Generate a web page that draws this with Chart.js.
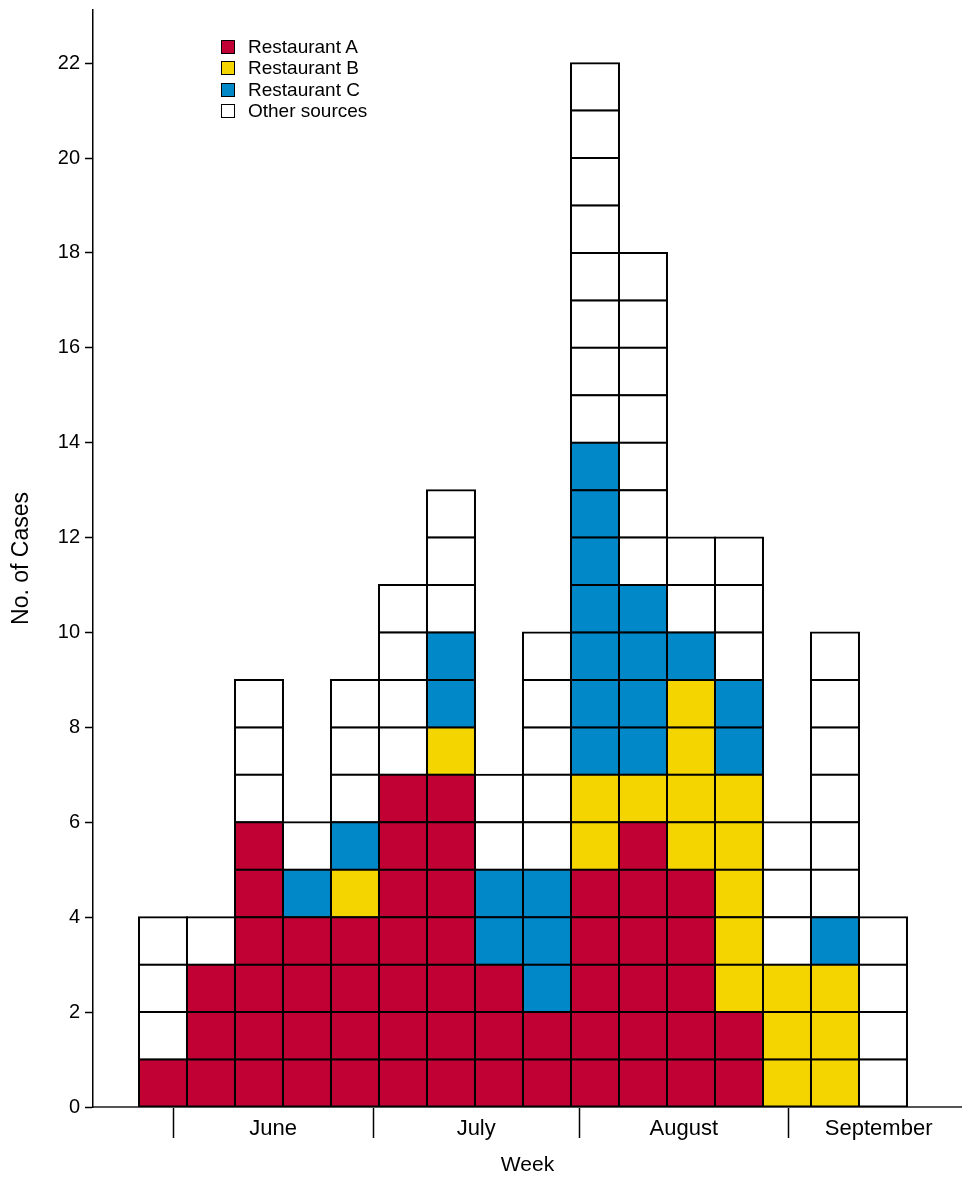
<!DOCTYPE html>
<html>
<head>
<meta charset="utf-8">
<title>Cases by week and source</title>
<script src="https://cdn.jsdelivr.net/npm/chart.js@4.4.0/dist/chart.umd.min.js"></script>
<style>
    body { margin: 0; background: #fff; }
    #wrap { position: relative; width: 962px; height: 1178px; }
    #legend { position: absolute; left: 221px; top: 36px; font-family: 'Liberation Sans', Arial, sans-serif; font-size: 19px; color: #000; }
    #legend .row { height: 21.5px; display: flex; align-items: center; }
    #legend .box { width: 14px; height: 14px; border: 1.5px solid #000; box-sizing: border-box; margin-right: 13px; }
</style>
</head>
<body>
<div id="wrap">
    <canvas id="chart-cases"></canvas>
    <div id="legend"></div>
</div>
<script>
// week index of each bar
const weeks = [1, 2, 3, 4, 5, 6, 7, 8, 9, 10, 11, 12, 13, 14, 15, 16];

// cases per week, by source
const restaurantA  = [1, 3, 6, 4, 4, 7, 7, 3, 2, 5, 6, 5, 2, 0, 0, 0];
const restaurantB  = [0, 0, 0, 0, 1, 0, 1, 0, 0, 2, 1, 4, 5, 3, 3, 0];
const restaurantC  = [0, 0, 0, 1, 1, 0, 2, 2, 3, 7, 4, 1, 2, 0, 1, 0];
const otherSources = [3, 1, 3, 1, 3, 4, 3, 2, 5, 8, 7, 2, 3, 3, 6, 4];

const seriesNames  = ['Restaurant A', 'Restaurant B', 'Restaurant C', 'Other sources'];
const seriesColors = ['#C10034', '#F4D500', '#0088C8', '#FFFFFF'];

// month labels on the week axis, and the week position where each month begins
const monthNames  = ['June', 'July', 'August', 'September'];
const monthStarts = [1.21, 5.38, 9.67, 14.03, 17.79];

const yTicks = [0, 2, 4, 6, 8, 10, 12, 14, 16, 18, 20, 22];

Chart.defaults.font.family = "'Liberation Sans', Arial, sans-serif";
Chart.defaults.color = '#000';

// every case is its own box, so each series is split in one-case layers
function unitDatasets(counts, name, color) {
    const sets = [];
    const top = Math.max(...counts);
    for (let k = 1; k <= top; k++) {
        const data = [];
        weeks.forEach(function (w, i) {
            if (counts[i] >= k) data.push({x: w, y: 1});
        });
        sets.push({
            label: name,
            data: data,
            backgroundColor: color,
            borderColor: '#000',
            borderWidth: 2,
            borderSkipped: false,
            inflateAmount: 1,
            barPercentage: 1,
            categoryPercentage: 1
        });
    }
    return sets;
}

const allSeries = [restaurantA, restaurantB, restaurantC, otherSources];
let datasets = [];
allSeries.forEach(function (counts, s) {
    datasets = datasets.concat(unitDatasets(counts, seriesNames[s], seriesColors[s]));
});

// month ticks: a divider mark at each month start, a label in the middle
const monthTicks = [];
monthNames.forEach(function (name, i) {
    monthTicks.push({value: monthStarts[i], label: '', divider: true});
    monthTicks.push({value: (monthStarts[i] + monthStarts[i + 1]) / 2, label: name, divider: false});
});

const ctx = document.getElementById('chart-cases');

new Chart(ctx, {
    type: 'bar',
    data: {datasets: datasets},
    options: {
        responsive: true,
        maintainAspectRatio: false,
        animation: false,
        layout: {padding: {top: 10, left: 0, right: 0, bottom: 0}},
        plugins: {
            legend: {display: false},
            tooltip: {enabled: false}
        },
        scales: {
            x: {
                type: 'linear',
                stacked: true,
                offset: false,
                min: -0.458,
                max: 17.646,
                afterBuildTicks: function (axis) {
                    axis.ticks = monthTicks.map(function (t) { return {value: t.value, label: t.label, divider: t.divider}; });
                },
                afterFit: function (s) {
                    s.height = 71;
                    s.paddingLeft = 0;
                    s.paddingRight = 0;
                },
                ticks: {
                    autoSkip: false,
                    maxRotation: 0,
                    padding: -22,
                    font: {size: 22},
                    callback: function (v, i) { return monthTicks[i].label; }
                },
                grid: {
                    offset: false,
                    drawOnChartArea: false,
                    tickLength: 31,
                    tickWidth: 1.5,
                    tickColor: function (c) { return c.tick && c.tick.divider ? '#000' : 'rgba(0,0,0,0)'; }
                },
                border: {color: '#555', width: 2},
                title: {display: true, text: 'Week', font: {size: 21}, padding: {top: 0, bottom: 0}}
            },
            y: {
                stacked: true,
                min: 0,
                max: 23.12,
                afterBuildTicks: function (axis) {
                    axis.ticks = yTicks.map(function (v) { return {value: v}; });
                },
                afterFit: function (s) {
                    s.width = 93;
                    s.paddingTop = 0;
                    s.paddingBottom = 0;
                },
                ticks: {padding: 5, font: {size: 20}},
                grid: {drawOnChartArea: false, tickLength: 8, tickWidth: 1.5, tickColor: '#000'},
                border: {color: '#000', width: 1.5},
                title: {display: true, text: 'No. of Cases', font: {size: 23}, padding: {top: 8, bottom: 0}}
            }
        }
    }
});

// legend
const legend = document.getElementById('legend');
seriesNames.forEach(function (name, i) {
    const row = document.createElement('div');
    row.className = 'row';
    const box = document.createElement('span');
    box.className = 'box';
    box.style.background = seriesColors[i];
    row.appendChild(box);
    row.appendChild(document.createTextNode(name));
    legend.appendChild(row);
});
</script>
</body>
</html>
